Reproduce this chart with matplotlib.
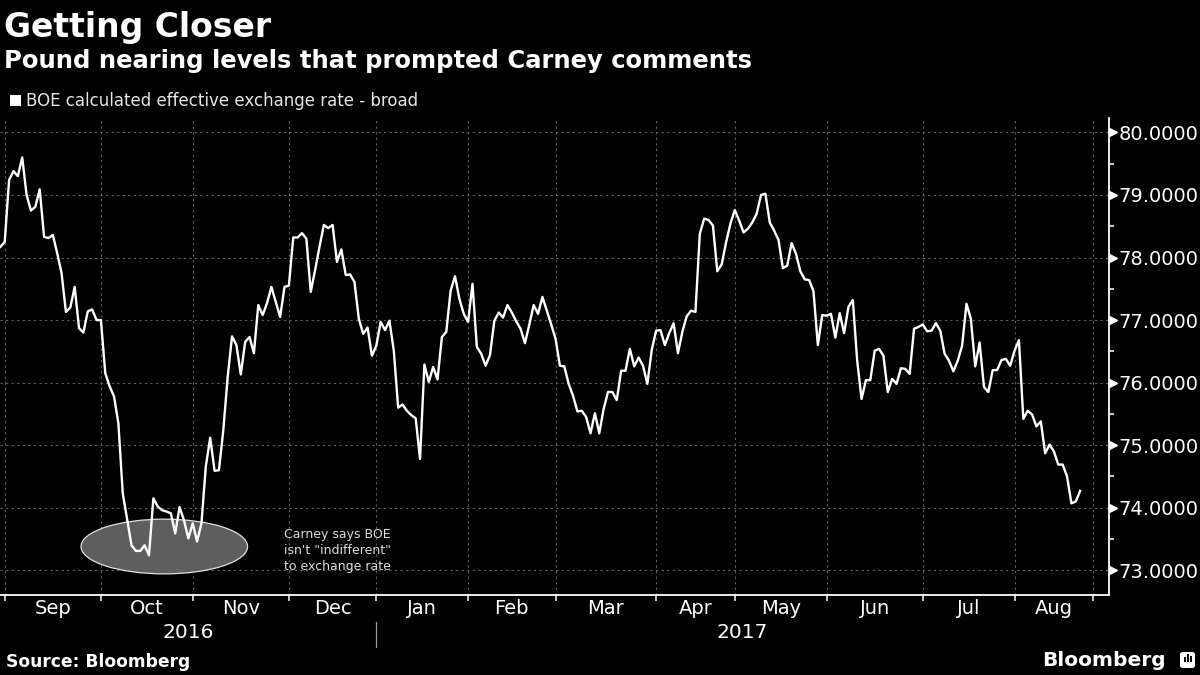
import matplotlib
matplotlib.use("Agg")
import matplotlib.pyplot as plt
import matplotlib.transforms as mtransforms
from matplotlib.patches import Ellipse, Rectangle, FancyBboxPatch
from matplotlib.ticker import FixedLocator, FuncFormatter
from matplotlib import font_manager
import numpy as np
import pandas as pd

# ---------------- data ----------------
title = "Getting Closer"
subtitle = "Pound nearing levels that prompted Carney comments"
series_name = "BOE calculated effective exchange rate - broad"
source = "Source: Bloomberg"
note = "Carney says BOE\nisn't \"indifferent\"\nto exchange rate"

start_date = "2016-08-31"
end_date = "2017-08-22"
uk_holidays = ["2016-12-26", "2016-12-27", "2017-01-02", "2017-04-14",
               "2017-04-17", "2017-05-01", "2017-05-29"]

eer_values = [
    78.17, 78.25, 79.24, 79.38, 79.30, 79.60, 79.00, 78.75, 78.81, 79.09,
    78.33, 78.31, 78.36, 78.07, 77.75, 77.13, 77.20, 77.53, 76.87, 76.80,
    77.14, 77.17, 77.00, 77.00, 76.15, 75.94, 75.78, 75.35, 74.23, 73.81,
    73.40, 73.31, 73.31, 73.40, 73.24, 74.15, 74.02, 73.96, 73.94, 73.91,
    73.59, 74.01, 73.80, 73.51, 73.75, 73.46, 73.75, 74.66, 75.12, 74.59,
    74.60, 75.24, 76.09, 76.74, 76.60, 76.13, 76.65, 76.73, 76.47, 77.24,
    77.08, 77.27, 77.53, 77.29,
    77.05, 77.53, 77.55, 78.32, 78.32, 78.39, 78.30, 77.45, 77.80, 78.17,
    78.52, 78.47, 78.52, 77.93, 78.13, 77.72, 77.73, 77.61, 77.02, 76.78,
    76.88, 76.43, 76.59, 76.97, 76.84, 76.99, 76.51, 75.60, 75.65, 75.55,
    75.48, 75.43, 74.78, 76.29, 76.01, 76.25, 76.05, 76.73, 76.81, 77.47,
    77.70, 77.34, 77.10, 76.97, 77.58, 76.57, 76.46, 76.27, 76.44, 76.99,
    77.12, 77.04, 77.24, 77.12, 76.98, 76.86, 76.63, 76.93, 77.24, 77.10,
    77.37, 77.15, 76.93, 76.70,
    76.27, 76.26, 75.98, 75.79, 75.54, 75.55, 75.45, 75.19, 75.51, 75.19,
    75.58, 75.85, 75.85, 75.72, 76.19, 76.19, 76.54, 76.26, 76.40, 76.27,
    75.98, 76.52, 76.83, 76.84, 76.60, 76.79, 76.95, 76.47, 76.81, 77.06,
    77.15, 77.13, 78.38, 78.62, 78.60, 78.51, 77.78, 77.89, 78.24, 78.54,
    78.76, 78.59, 78.40, 78.46, 78.56, 78.70, 79.00, 79.02, 78.56, 78.43,
    78.28, 77.83, 77.87, 78.23, 78.06, 77.78, 77.65, 77.64, 77.46, 76.60,
    77.08, 77.07,
    77.10, 76.72, 77.11, 76.79, 77.21, 77.32, 76.35, 75.74, 76.04, 76.04,
    76.51, 76.54, 76.43, 75.85, 76.06, 75.98, 76.23, 76.22, 76.14, 76.86,
    76.89, 76.93, 76.82, 76.83, 76.95, 76.83, 76.46, 76.35, 76.18, 76.35,
    76.59, 77.26, 77.02, 76.26, 76.64, 75.93, 75.85, 76.20, 76.20, 76.36,
    76.38, 76.27, 76.51, 76.68, 75.42, 75.55, 75.49, 75.30, 75.38, 74.87,
    75.01, 74.90, 74.69, 74.69, 74.50, 74.07, 74.10, 74.27,
]

y_ticks = [73, 74, 75, 76, 77, 78, 79, 80]

dates = pd.bdate_range(start_date, end_date, freq="C", holidays=uk_holidays)
n = min(len(dates), len(eer_values))
dates = dates[:n]
vals = np.array(eer_values[:n])
xpos = np.arange(n)

month_starts = [i for i in range(1, n) if dates[i].month != dates[i - 1].month]
month_names = [dates[i].strftime("%b") for i in month_starts]
end_tick = n + 2
x_right = n + 5.6
tick_pos = month_starts + [end_tick]
jan_idx = [i for i in month_starts if dates[i].month == 1][0]

available = {f.name for f in font_manager.fontManager.ttflist}
if "Liberation Sans Narrow" in available:
    note_family, note_size = "Liberation Sans Narrow", 10.5
else:
    note_family, note_size = "DejaVu Sans", 9

# ---------------- figure ----------------
W, H = 1200, 675
fig = plt.figure(figsize=(12, 6.75), dpi=100, facecolor="black")
ax_left, ax_right_px, ax_top, ax_bot = 0, 1109, 118, 595
ax = fig.add_axes([ax_left / W, (H - ax_bot) / H, (ax_right_px - ax_left) / W,
                   (ax_bot - ax_top) / H])
ax.set_facecolor("black")

grid_kw = dict(color="#626262", lw=0.8, ls=(0, (2, 3)), zorder=1)
for t in tick_pos:
    ax.axvline(t, **grid_kw)
for v in y_ticks:
    ax.axhline(v, **grid_kw)

ell = Ellipse((37.5, 73.38), width=38.1, height=0.875, facecolor="#5e5e5e",
              edgecolor="#e0e0e0", lw=0.9, zorder=2)
ax.add_patch(ell)

ax.plot(xpos, vals, color="white", lw=1.7, zorder=3)

ax.text(64.9, 73.68, note, color="#dddddd", fontsize=note_size, va="top",
        ha="left", linespacing=1.3, family=note_family, zorder=4)

ax.set_xlim(-0.08, x_right)
ax.set_ylim(72.605, 80.23)

for s in ["left", "top"]:
    ax.spines[s].set_visible(False)
for s in ["right", "bottom"]:
    ax.spines[s].set_color("white")
    ax.spines[s].set_linewidth(1.3)

ax.yaxis.tick_right()
ax.yaxis.set_major_locator(FixedLocator(y_ticks))
ax.yaxis.set_minor_locator(FixedLocator([v + 0.5 for v in y_ticks[:-1]] + [72.5]))
ax.yaxis.set_major_formatter(FuncFormatter(lambda v, p: f"{v:.4f}"))
ax.tick_params(axis="y", which="major", length=0, pad=7, labelsize=14,
               labelcolor="white")
ax.tick_params(axis="y", which="minor", length=3.5, width=1.1, color="white",
               direction="out")
tri_tr = mtransforms.offset_copy(ax.get_yaxis_transform(), fig=fig, x=3.5,
                                 y=0, units="dots")
ax.plot([1.0] * len(y_ticks), y_ticks, ls="none", marker=">", ms=5.5,
        color="white", transform=tri_tr, clip_on=False, zorder=5)

ax.xaxis.set_major_locator(FixedLocator(tick_pos))
ax.xaxis.set_major_formatter(FuncFormatter(lambda v, p: ""))
ax.tick_params(axis="x", which="major", length=4, width=1.1, color="white",
               direction="out")
label_pos = [(tick_pos[i] + tick_pos[i + 1]) / 2 for i in range(len(month_starts))]
xtr = ax.get_xaxis_transform()
hax = ax_bot - ax_top
for lp, name in zip(label_pos, month_names):
    ax.text(lp, -14 / hax, name, transform=xtr, ha="center", va="center",
            color="white", fontsize=14, family="DejaVu Sans")
ax.text(jan_idx / 2, -38 / hax, str(dates[0].year), transform=xtr,
        ha="center", va="center", color="white", fontsize=14.5)
ax.text((jan_idx + x_right) / 2, -38 / hax, str(dates[-1].year), transform=xtr,
        ha="center", va="center", color="white", fontsize=14.5)
ax.plot([jan_idx, jan_idx], [-(622 - ax_bot) / hax, -(647 - ax_bot) / hax],
        transform=xtr, color="#9a9a9a", lw=0.9, clip_on=False)

# ---------------- header / footer ----------------
def fy(py):
    return (H - py) / H

fig.text(4 / W, fy(37), title, color="white", fontsize=23.8, fontweight="bold",
         va="baseline", ha="left", family="DejaVu Sans")
fig.text(4 / W, fy(68), subtitle, color="white", fontsize=17.5,
         fontweight="bold", va="baseline", ha="left", family="DejaVu Sans")
fig.patches.append(Rectangle((10 / W, fy(106)), 10.5 / W, 11 / H,
                             transform=fig.transFigure, facecolor="white",
                             edgecolor="none"))
fig.text(26 / W, fy(106), series_name, color="#e6e6e6", fontsize=12,
         va="baseline", ha="left", family="DejaVu Sans")
fig.text(6 / W, fy(667), source, color="white", fontsize=12.3,
         fontweight="bold", va="baseline", ha="left", family="DejaVu Sans")
fig.text(1166 / W, fy(666), "Bloomberg", color="white", fontsize=14.5,
         fontweight="bold", va="baseline", ha="right", family="DejaVu Sans")
fig.patches.append(FancyBboxPatch((1180 / W, fy(668)), 15 / W, 16 / H,
                                  boxstyle="round,pad=0,rounding_size=0.003",
                                  transform=fig.transFigure, facecolor="white",
                                  edgecolor="none"))
for bx, bh in [(1184, 5), (1187, 8), (1190, 6)]:
    fig.patches.append(Rectangle((bx / W, fy(662)), 1.6 / W, bh / H,
                                 transform=fig.transFigure, facecolor="black",
                                 edgecolor="none"))

fig.savefig("out.png", dpi=100, facecolor="black")
